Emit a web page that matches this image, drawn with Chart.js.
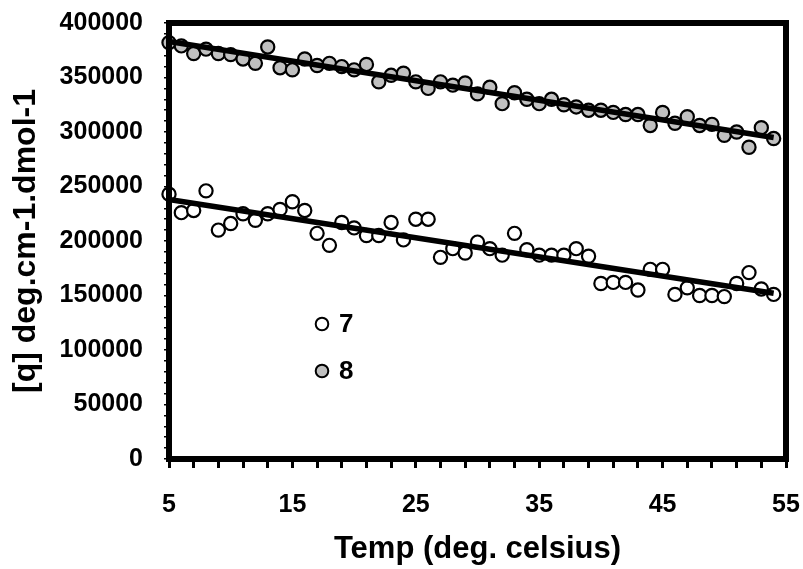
<!DOCTYPE html>
<html>
<head>
<meta charset="utf-8">
<script src="https://cdn.jsdelivr.net/npm/chart.js@4/dist/chart.umd.min.js"></script>
<style>
html,body{margin:0;padding:0;background:#fff;}
#wrap{width:803px;height:569px;position:relative;}
</style>
</head>
<body>
<div id="wrap"><canvas id="c" width="803" height="569"></canvas></div>
<script>
// ---- data ----
const temps = [5,6,7,8,9,10,11,12,13,14,15,16,17,18,19,20,21,22,23,24,25,26,27,28,29,30,
               31,32,33,34,35,36,37,38,39,40,41,42,43,44,45,46,47,48,49,50,51,52,53,54];
const series7 = [243000,226000,228000,246000,210000,216000,225000,219000,225000,229000,
                 236000,228000,207000,196000,217000,212000,205000,205000,217000,201000,
                 220000,220000,185000,193000,189000,199000,193000,187000,207000,192000,
                 187000,187000,187000,193000,186000,161000,162000,162000,155000,174000,
                 174000,151000,157000,150000,150000,149000,161000,171000,156000,151000];
const series8 = [382000,379000,372000,376000,372000,371000,367000,363000,378000,359000,
                 357000,367000,361000,363000,360000,357000,362000,346000,352000,354000,
                 346000,340000,346000,343000,345000,335000,341000,326000,336000,330000,
                 326000,330000,325000,323000,320000,320000,318000,316000,316000,306000,
                 318000,308000,314000,306000,307000,297000,300000,286000,304000,294000];
const trendX  = [5, 54];
const trend7  = [238000, 152000];
const trend8  = [383000, 295000];
const seriesLabels = ['7', '8'];
const xTickValues = [5,7,9,11,13,15,17,19,21,23,25,27,29,31,33,35,37,39,41,43,45,47,49,51,53,55];
const xTickLabels = [5,15,25,35,45,55];
const yTickValues = [0,10000,20000,30000,40000,50000,60000,70000,80000,90000,100000,
                     110000,120000,130000,140000,150000,160000,170000,180000,190000,200000,
                     210000,220000,230000,240000,250000,260000,270000,280000,290000,300000,
                     310000,320000,330000,340000,350000,360000,370000,380000,390000,400000];
const yTickLabels = [0,50000,100000,150000,200000,250000,300000,350000,400000];
const xTitle = 'Temp (deg. celsius)';
const yTitle = '[q] deg.cm-1.dmol-1';

const toXY = (xs, ys) => xs.map((x, i) => ({x: x, y: ys[i]}));

const FONT = '"Liberation Sans", Arial, sans-serif';
Chart.defaults.font.family = FONT;
Chart.defaults.color = '#000';

const framePlugin = {
  id: 'frame',
  afterDatasetsDraw(chart) {
    const {ctx, chartArea: a} = chart;
    ctx.save();
    ctx.strokeStyle = '#000';
    ctx.lineWidth = 6;
    ctx.lineJoin = 'miter';
    ctx.strokeRect(a.left, a.top, a.right - a.left, a.bottom - a.top);
    ctx.restore();
  }
};

const legendPlugin = {
  id: 'insideLegend',
  afterDraw(chart, args, opts) {
    const {ctx} = chart;
    ctx.save();
    const items = chart.data.datasets.filter(d => seriesLabels.includes(d.label));
    items.sort((p, q) => seriesLabels.indexOf(p.label) - seriesLabels.indexOf(q.label));
    items.forEach((d, i) => {
      const cx = opts.x, cy = opts.y + i * opts.gap;
      ctx.beginPath();
      ctx.arc(cx, cy, opts.r, 0, Math.PI * 2);
      ctx.fillStyle = d.pointBackgroundColor;
      ctx.fill();
      ctx.lineWidth = 2;
      ctx.strokeStyle = '#000';
      ctx.stroke();
      ctx.fillStyle = '#000';
      ctx.font = 'bold 26px ' + FONT;
      ctx.textBaseline = 'middle';
      ctx.textAlign = 'left';
      ctx.fillText(d.label, cx + 17, cy + 1);
    });
    ctx.restore();
  }
};

new Chart(document.getElementById('c'), {
  type: 'scatter',
  data: {
    datasets: [
      {type: 'line', label: 'trend7', data: toXY(trendX, trend7), borderColor: '#000',
       borderWidth: 5.5, pointRadius: 0, fill: false, order: 0, clip: false},
      {type: 'line', label: 'trend8', data: toXY(trendX, trend8), borderColor: '#000',
       borderWidth: 5.5, pointRadius: 0, fill: false, order: 0, clip: false},
      {label: seriesLabels[0], data: toXY(temps, series7), pointBackgroundColor: '#ffffff',
       pointBorderColor: '#000', pointBorderWidth: 2.2, pointRadius: 6.6, order: 1, clip: false},
      {label: seriesLabels[1], data: toXY(temps, series8), pointBackgroundColor: '#c0c0c0',
       pointBorderColor: '#000', pointBorderWidth: 2.2, pointRadius: 6.6, order: 1, clip: false}
    ]
  },
  options: {
    responsive: false,
    animation: false,
    events: [],
    layout: {padding: {top: 23, right: 17, left: 0, bottom: 0}},
    plugins: {
      legend: {display: false},
      tooltip: {enabled: false},
      insideLegend: {x: 322, y: 324, gap: 47, r: 6.3}
    },
    scales: {
      x: {
        type: 'linear', min: 5, max: 55,
        afterFit(s) { s.height = 110; s.paddingLeft = 0; s.paddingRight = 0; },
        afterBuildTicks(s) { s.ticks = xTickValues.map(v => ({value: v})); },
        border: {display: false},
        grid: {drawOnChartArea: false, drawTicks: true, tickLength: 9, lineWidth: 3, color: '#000'},
        ticks: {
          autoSkip: false, maxRotation: 0, padding: 22,
          font: {size: 25, weight: 'bold'},
          callback: v => xTickLabels.includes(v) ? String(v) : ''
        },
        title: {display: true, text: xTitle, font: {size: 31, weight: 'bold'}, padding: {top: 0, bottom: 1}}
      },
      y: {
        type: 'linear', min: 0, max: 400000,
        afterFit(s) { s.width = 169; s.paddingTop = 0; s.paddingBottom = 0; },
        afterBuildTicks(s) { s.ticks = yTickValues.map(v => ({value: v})); },
        border: {display: false},
        grid: {drawOnChartArea: false, drawTicks: true, tickLength: 5,
               lineWidth: 1.5, color: '#000'},
        ticks: {
          autoSkip: false, padding: 21,
          font: {size: 25, weight: 'bold'},
          callback: v => yTickLabels.includes(v) ? String(v) : ''
        },
        title: {display: true, text: yTitle, font: {size: 32, weight: 'bold'}, padding: {top: 7, bottom: 0}}
      }
    }
  },
  plugins: [framePlugin, legendPlugin]
});
</script>
</body>
</html>
